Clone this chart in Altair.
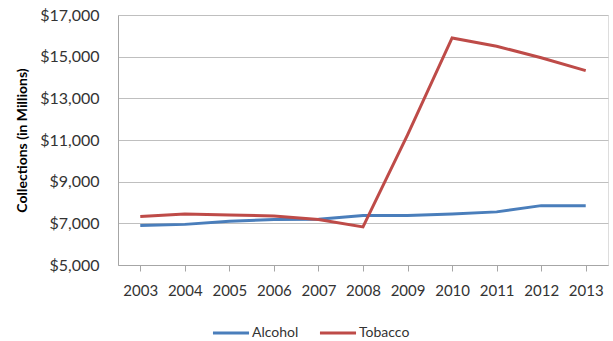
import altair as alt
import pandas as pd

years = ["2003", "2004", "2005", "2006", "2007", "2008", "2009", "2010", "2011", "2012", "2013"]
alcohol = [6900, 6950, 7100, 7180, 7200, 7380, 7380, 7450, 7550, 7850, 7850]
tobacco = [7330, 7450, 7400, 7350, 7180, 6830, 11250, 15900, 15500, 14950, 14330]
series = ["Alcohol", "Tobacco"]
colors = ["#4A7EBB", "#BE4B48"]

rows = []
for name, vals in zip(series, [alcohol, tobacco]):
    for y, v in zip(years, vals):
        rows.append({"Year": y, "Value": v, "Series": name})
df = pd.DataFrame(rows)

FONT = "Lato"

chart = alt.Chart(df).mark_line(strokeWidth=3).encode(
    x=alt.X("Year:O", scale=alt.Scale(type="point", padding=0.5),
            axis=alt.Axis(title=None, labelAngle=0, labelFontSize=15, labelColor="#333333",
                          labelFont=FONT, domainColor="#A6A6A6", tickColor="#A6A6A6",
                          tickSize=6, labelPadding=12, grid=False)),
    y=alt.Y("Value:Q", scale=alt.Scale(domain=[5000, 17000], nice=False, zero=False),
            axis=alt.Axis(title="Collections (in Millions)", values=[5000, 7000, 9000, 11000, 13000, 15000, 17000],
                          format="$,.0f", labelFontSize=16, labelColor="#333333", labelFont=FONT,
                          titleFont=FONT, titleFontSize=14, titleFontWeight="bold", titleColor="#000000",
                          titlePadding=10, domainColor="#A6A6A6", ticks=False, labelPadding=19,
                          gridColor="#BFBFBF", gridWidth=1.2)),
    color=alt.Color("Series:N", scale=alt.Scale(domain=series, range=colors),
                    legend=alt.Legend(title=None, orient="none", legendX=93, legendY=298,
                                      direction="horizontal", symbolType="stroke",
                                      symbolStrokeWidth=3, symbolSize=1300,
                                      labelFontSize=14, labelFont=FONT, labelColor="#333333",
                                      columnPadding=14, labelOffset=1)),
).properties(
    width=490, height=250,
    padding={"left": 118, "top": 15, "right": 5, "bottom": 76},
    autosize=alt.AutoSizeParams(type="none"),
).configure_view(stroke=None).configure(background="white")

chart.save("out.html", embed_options={"renderer": "svg", "actions": False})
